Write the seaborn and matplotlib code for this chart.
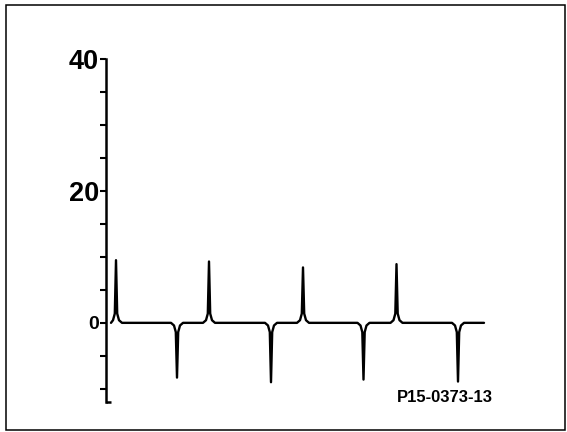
import matplotlib
matplotlib.use("Agg")
import matplotlib.pyplot as plt
from matplotlib.patches import Rectangle
from matplotlib.ticker import MultipleLocator
import seaborn as sns
import pandas as pd

# trace: time (ms) and current
time_ms = [5, 7, 8.8, 10, 11.2, 13, 16,
           65, 68, 69.8, 71, 72.2, 74, 77,
           97, 100, 101.8, 103, 104.2, 106, 109,
           159, 162, 163.8, 165, 166.2, 168, 171,
           191, 194, 195.8, 197, 198.2, 200, 203,
           251.5, 254.5, 256.3, 257.5, 258.7, 260.5, 263.5,
           284.5, 287.5, 289.3, 290.5, 291.7, 293.5, 296.5,
           346, 349, 350.8, 352, 353.2, 355, 358,
           378]
current = [0, 0.4, 1.4, 9.5, 1.4, 0.4, 0,
           0, -0.4, -1.4, -8.3, -1.4, -0.4, 0,
           0, 0.4, 1.4, 9.3, 1.4, 0.4, 0,
           0, -0.4, -1.4, -9.0, -1.4, -0.4, 0,
           0, 0.4, 1.4, 8.4, 1.4, 0.4, 0,
           0, -0.4, -1.4, -8.6, -1.4, -0.4, 0,
           0, 0.4, 1.4, 8.9, 1.4, 0.4, 0,
           0, -0.4, -1.4, -8.9, -1.4, -0.4, 0,
           0]

y_ticks = [0, 20, 40]
y_tick_labels = ["0", "20", "40"]
fig_label = "P15-0373-13"

df = pd.DataFrame({"time": time_ms, "current": current})

sns.set_style("white")
plt.rcParams['font.family'] = ['Liberation Sans', 'DejaVu Sans']
plt.rcParams['text.color'] = 'black'
plt.rcParams['ytick.color'] = 'black'

fig = plt.figure(figsize=(5.67, 4.32), dpi=100)
ax = fig.add_axes([106 / 567, 1 - 402 / 432, 384 / 567, (402 - 59) / 432])

sns.lineplot(data=df, x="time", y="current", ax=ax, color="black",
             linewidth=1.7, estimator=None, sort=False)

ax.set_xlim(0, 384)
ax.set_ylim(-12, 40)
ax.set_xlabel("")
ax.set_ylabel("")
ax.set_xticks([])
ax.set_yticks(y_ticks)
ax.set_yticklabels(y_tick_labels, fontweight="bold", color="black")
ax.yaxis.set_minor_locator(MultipleLocator(5))
ax.tick_params(axis="y", which="both", direction="out", length=4.5,
               width=1.5, color="black", labelcolor="black", pad=0.5, left=True)
for lab, size in zip(ax.get_yticklabels(), [14, 19.5, 19.5]):
    lab.set_fontsize(size)

sns.despine(ax=ax, top=True, right=True, bottom=True)
ax.spines["left"].set_linewidth(1.8)
ax.spines["left"].set_color("black")
ax.patch.set_alpha(0)

# small cap at the bottom end of the axis
ax.plot([0, 5], [-12, -12], color="black", linewidth=1.8,
        solid_capstyle="butt", clip_on=False)

fig.text(444.5 / 567, 1 - 397 / 432, fig_label, ha="center", va="center",
         fontsize=12, fontweight="bold", color="black")

fig.add_artist(Rectangle((6 / 567, 1 - 430 / 432), 559 / 567, 425 / 432,
                         transform=fig.transFigure, fill=False,
                         edgecolor="black", linewidth=1.1))

fig.savefig("out.png", dpi=100)
